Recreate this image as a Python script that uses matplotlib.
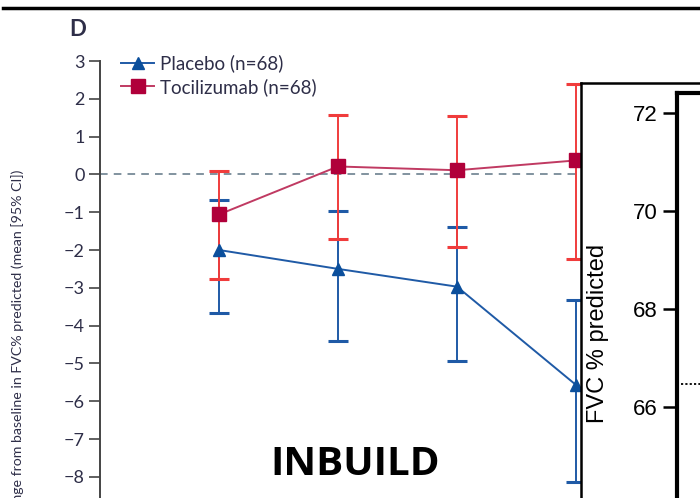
import matplotlib.pyplot as plt

W, H = 700, 498

weeks = [8, 16, 24, 32]
placebo = [-2.0, -2.5, -2.97, -5.57]
placebo_lo = [-3.66, -4.4, -4.93, -8.14]
placebo_hi = [-0.69, -0.98, -1.38, -3.31]
toci = [-1.06, 0.21, 0.11, 0.37]
toci_lo = [-2.76, -1.72, -1.93, -2.25]
toci_hi = [0.1, 1.56, 1.54, 2.39]
yticks_main = [3, 2, 1, 0, -1, -2, -3, -4, -5, -6, -7, -8]

inset_ticks = [66, 68, 70, 72]
inset_ref = 66.47

blue = '#1f5aa6'
crimson = '#b0003a'
red_ci = '#f03c3c'
txt = '#2e2e48'

plt.rcParams['font.family'] = ['Lato', 'DejaVu Sans']

def px(x0, y0, x1, y1):
    # pixel box (top-left origin) -> figure coords
    return [x0 / W, 1 - y1 / H, (x1 - x0) / W, (y1 - y0) / H]

fig = plt.figure(figsize=(W / 100, H / 100), dpi=100)

# main panel D
ax = fig.add_axes(px(100, 61, 700, 514.6))
ax.set_ylim(-9, 3)
ax.set_xlim(0, 600 / 14.875)
for s in ['top', 'right', 'bottom']:
    ax.spines[s].set_visible(False)
ax.spines['left'].set_color('#444444')
ax.spines['left'].set_linewidth(1.4)
ax.set_xticks([])
ax.set_yticks(yticks_main)
ax.tick_params(axis='y', length=8, width=1.2, color='#444444', labelsize=13,
               labelcolor=txt, pad=3)
ax.axhline(0, color='#5f7585', lw=1.1, ls=(0, (5, 4)))

ax.errorbar(weeks, placebo,
            yerr=[[p - l for p, l in zip(placebo, placebo_lo)],
                  [h - p for p, h in zip(placebo, placebo_hi)]],
            fmt='none', ecolor=blue, elinewidth=1.4, capsize=7, capthick=2.2, zorder=2)
ax.errorbar(weeks, toci,
            yerr=[[p - l for p, l in zip(toci, toci_lo)],
                  [h - p for p, h in zip(toci, toci_hi)]],
            fmt='none', ecolor=red_ci, elinewidth=1.4, capsize=7, capthick=2.2, zorder=2)
ax.plot(weeks, placebo, color=blue, lw=1.4, marker='^', ms=8, mfc='#0b4f9c',
        mec='#0b4f9c', label='Placebo (n=68)', zorder=3)
ax.plot(weeks, toci, color='#c03a62', lw=1.4, marker='s', ms=10, mfc=crimson,
        mec=crimson, label='Tocilizumab (n=68)', zorder=3)
ax.legend(loc='upper left', bbox_to_anchor=(112 / W, 1 - 45 / H),
          bbox_transform=fig.transFigure, frameon=False, fontsize=13.5,
          handlelength=1.75, handletextpad=0.3, labelspacing=0.3,
          labelcolor=txt, borderpad=0)

fig.text(69 / W, 1 - 30 / H, 'D', fontsize=16, fontweight='bold', color=txt,
         ha='left', va='center')
fig.text(18 / W, 1 - 170 / H, 'Change from baseline in FVC% predicted (mean [95% CI])',
         rotation=90, fontsize=10.2, color=txt, ha='center', va='top')

# top border line
fig.add_artist(plt.Line2D([3 / W, 1], [1 - 8 / H, 1 - 8 / H], color='black', lw=2.5))

# overlaid inset
box = fig.add_axes(px(581, 83, 720, 520))
box.set_zorder(4)
box.set_facecolor('white')
for s in ['right', 'bottom']:
    box.spines[s].set_visible(False)
for s in ['left', 'top']:
    box.spines[s].set_linewidth(1.8)
box.set_xticks([])
box.set_yticks([])

inner = fig.add_axes(px(677, 93, 730, 498))
inner.set_zorder(5)
inner.patch.set_visible(False)
inner.set_ylim(72 - (498 - 113) / 49, 72 + (113 - 93) / 49)
inner.set_xlim(0, 1)
for s in ['right', 'bottom']:
    inner.spines[s].set_visible(False)
for s in ['left', 'top']:
    inner.spines[s].set_linewidth(3)
inner.set_xticks([])
inner.set_yticks(inset_ticks)
inner.tick_params(axis='y', length=10, width=1.8, labelsize=16, pad=4,
                  labelfontfamily='Liberation Sans')
inner.axhline(inset_ref, xmin=0.08, color='black', lw=1.3, ls=(0, (1.2, 1.2)))

fig.text(598 / W, 1 - 333 / H, 'FVC % predicted', rotation=90, fontsize=17,
         family='Liberation Sans', ha='center', va='center', zorder=6)

fig.text(355 / W, 1 - 464 / H, 'INBUILD', fontsize=29, fontweight='bold',
         family='Open Sans', ha='center', va='center', zorder=6)

fig.savefig('out.png', dpi=100)
